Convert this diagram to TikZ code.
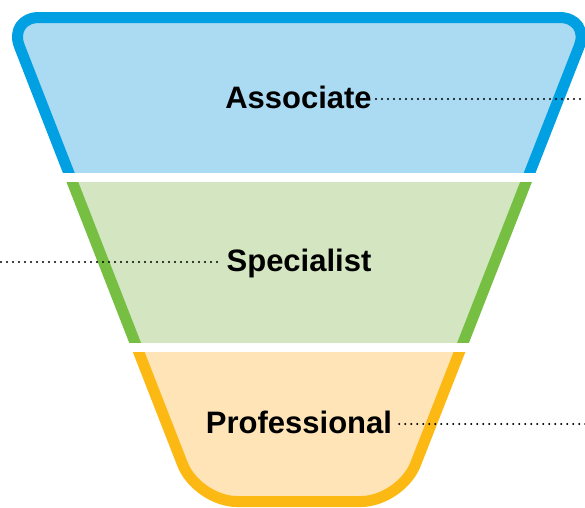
\documentclass[tikz,border=0pt]{standalone}
\usepackage{fontspec}
\setmainfont{Liberation Sans}
\definecolor{blueline}{RGB}{0,160,227}
\definecolor{bluefill}{RGB}{171,218,243}
\definecolor{greenline}{RGB}{118,191,67}
\definecolor{greenfill}{RGB}{211,230,193}
\definecolor{orangeline}{RGB}{253,185,19}
\definecolor{orangefill}{RGB}{254,228,183}
\tikzset{
  funnel/.style={insert path={
    (39.2,17.5) -- (559.4,17.5)
    .. controls (576.4,17.5) and (585.3,30.5) .. (579.15,46.4)
    -- (415.5,464.2)
    .. controls (407.5,484.7) and (383,501.5) .. (361,501.5)
    -- (237,501.5)
    .. controls (215,501.5) and (190.5,484.7) .. (182.5,464.2)
    -- (19.45,46.4)
    .. controls (13.25,30.5) and (22.2,17.5) .. (39.2,17.5) -- cycle}},
  band/.style={line width=11pt, line join=round},
  label/.style={font=\bfseries\fontsize{31}{36}\selectfont, text=black, inner sep=1pt, anchor=base},
  dotline/.style={line width=2.3pt, dash pattern=on 0pt off 6pt, line cap=round, black}
}
\begin{document}
\begin{tikzpicture}[x=1pt,y=-1pt]
\useasboundingbox (0,0) rectangle (585,507);
\begin{scope}
  \clip (-10,-10) rectangle (600,172);
  \path[funnel, band, fill=bluefill, draw=blueline];
\end{scope}
\begin{scope}
  \clip (-10,182) rectangle (600,342);
  \path[funnel, band, fill=greenfill, draw=greenline];
\end{scope}
\begin{scope}
  \clip (-10,352) rectangle (600,520);
  \path[funnel, band, fill=orangefill, draw=orangeline];
\end{scope}
\node[label] (assoc) at (298.5,108) {Associate};
\node[label] (spec) at (299,271) {Specialist};
\node[label] (prof) at (299,433) {Professional};
\coordinate (aR) at (586,99);
\coordinate (sL) at (1,262);
\coordinate (pR) at (586,424);
\draw[dotline] (assoc.east |- aR) ++(3,0) -- (aR);
\draw[dotline] (sL) -- ([xshift=-3pt]spec.west |- sL);
\draw[dotline] (prof.east |- pR) ++(6,0) -- (pR);
\end{tikzpicture}
\end{document}
